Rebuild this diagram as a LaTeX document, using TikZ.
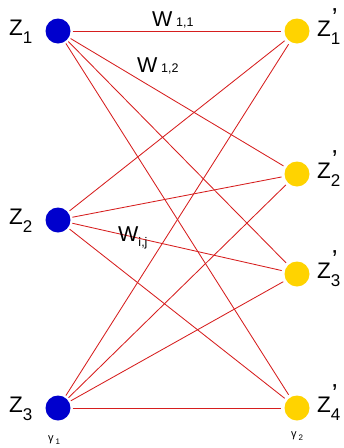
\documentclass[tikz,border=0pt]{standalone}
\usepackage{fontspec}
\setmainfont{Liberation Sans}
\definecolor{inblue}{RGB}{0,0,205}
\definecolor{outgold}{RGB}{255,211,0}
\definecolor{wirered}{RGB}{214,30,30}
\newcommand{\zsub}[1]{\raisebox{-8pt}{\fontsize{17}{17}\selectfont #1}}
\newcommand{\zpr}[1]{\rlap{\kern1pt\raisebox{10pt}{\fontsize{26}{26}\selectfont ’}}\zsub{#1}}
\tikzset{
  innode/.style={circle, fill=inblue, minimum size=25pt, inner sep=0pt},
  outnode/.style={circle, fill=outgold, minimum size=25pt, inner sep=0pt},
  wire/.style={draw=wirered, line width=0.85pt, shorten <=2pt, shorten >=3pt},
  zlabel/.style={inner sep=0pt, anchor=base west, font=\fontsize{22.5}{24}\selectfont},
  wlabel/.style={inner sep=0pt, anchor=base west, font=\fontsize{21.5}{24}\selectfont},
  glabel/.style={inner sep=0pt, anchor=base west, font=\fontsize{11}{12}\selectfont}
}
\begin{document}
\begin{tikzpicture}[x=1pt, y=-1pt]
\useasboundingbox (0,0) rectangle (344,448);
% input layer
\node[innode] (z1) at (58,31) {};
\node[innode] (z2) at (58,220) {};
\node[innode] (z3) at (58,408) {};
% output layer
\node[outnode] (y1) at (297,31) {};
\node[outnode] (y2) at (297,174) {};
\node[outnode] (y3) at (297,274) {};
\node[outnode] (y4) at (297,408) {};
% weights
\draw[wire] (z1) -- (y1);
\draw[wire] (z1) -- (y2);
\draw[wire] (z1) -- (y3);
\draw[wire] (z1) -- (y4);
\draw[wire] (z2) -- (y1);
\draw[wire] (z2) -- (y2);
\draw[wire] (z2) -- (y3);
\draw[wire] (z2) -- (y4);
\draw[wire] (z3) -- (y1);
\draw[wire] (z3) -- (y2);
\draw[wire] (z3) -- (y3);
\draw[wire] (z3) -- (y4);
% labels
\node[zlabel] (lz1) at (9,35) {Z\zsub{1}};
\node[zlabel] (lz2) at (9,224) {Z\zsub{2}};
\node[zlabel] (lz3) at (9,412) {Z\zsub{3}};
\node[zlabel] (ly1) at (317,36) {Z\zpr{1}};
\node[zlabel] (ly2) at (317,178) {Z\zpr{2}};
\node[zlabel] (ly3) at (317,278) {Z\zpr{3}};
\node[zlabel] (ly4) at (317,412) {Z\zpr{4}};
\node[wlabel] (w11) at (152,26) {W\,{\fontsize{12.5}{12}\selectfont 1,1}};
\node[wlabel] (w12) at (137,72) {W\,{\fontsize{12.5}{12}\selectfont 1,2}};
\node[wlabel] (wij) at (118,241) {W\raisebox{-5pt}{\fontsize{12.5}{12}\selectfont i,j}};
\node[glabel] (g1) at (48,441) {γ\,\raisebox{-3pt}{\fontsize{8}{8}\selectfont 1}};
\node[glabel] (g2) at (291,437) {γ\,\raisebox{-3pt}{\fontsize{8}{8}\selectfont 2}};
\end{tikzpicture}
\end{document}
